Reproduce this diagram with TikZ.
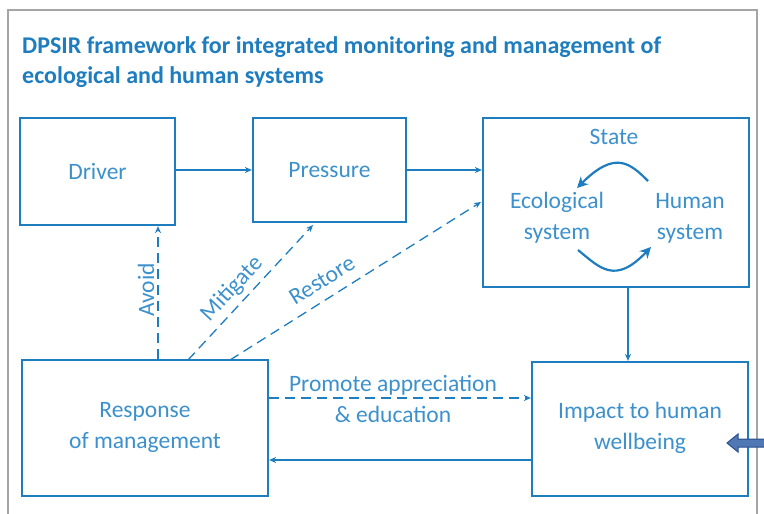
\documentclass[tikz,border=0pt]{standalone}
\usepackage{fontspec}
\setmainfont{Carlito}
\usetikzlibrary{arrows.meta}
\definecolor{boxblue}{RGB}{30,125,190}
\definecolor{txtblue}{RGB}{60,145,205}
\definecolor{framegray}{RGB}{165,165,165}
\definecolor{fatfill}{RGB}{80,120,180}
\definecolor{fatline}{RGB}{40,80,140}
\tikzset{
  stagebox/.style={draw=boxblue, line width=2.2pt, fill=white, inner sep=0pt},
  lbl/.style={text=txtblue, font=\fontsize{23.5}{31}\selectfont, align=center, inner sep=1pt},
  conn/.style={draw=boxblue, line width=1.3pt, -{Stealth[length=7pt,width=6pt]}},
  dconn/.style={conn, dash pattern=on 10pt off 6pt},
  curv/.style={draw=boxblue, line width=2.2pt, -{Stealth[length=11pt,width=11pt]}}
}
\begin{document}
\begin{tikzpicture}[x=1pt,y=-1pt]
\useasboundingbox (0,0) rectangle (764,514);
% outer frame
\draw[framegray, line width=1.5pt] (8,520) -- (8,10) -- (757,10) -- (757,520);
% title
\node[anchor=base west, text=boxblue, font=\bfseries\fontsize{24}{30}\selectfont, inner sep=0pt] (title1) at (22,53)
  {DPSIR framework for integrated monitoring and management of};
\node[anchor=base west, text=boxblue, font=\bfseries\fontsize{24}{30}\selectfont, inner sep=0pt] (title2) at (22,83)
  {ecological and human systems};
% boxes
\node[stagebox, minimum width=155pt, minimum height=107pt] (driver) at (97.5,171.5) {};
\node[lbl] at (driver) {Driver};
\node[stagebox, minimum width=153pt, minimum height=104pt] (pressure) at (329.5,170) {};
\node[lbl] at (pressure) {Pressure};
\node[stagebox, minimum width=266pt, minimum height=169pt] (state) at (616,202.5) {};
\node[stagebox, minimum width=246pt, minimum height=136pt] (response) at (145,428) {};
\node[lbl] at (145,427) {Response\\of management};
\node[stagebox, minimum width=216pt, minimum height=134pt] (impact) at (640,429) {};
\node[lbl] at (640,428) {Impact to human\\wellbeing};
% inside state
\node[lbl] (st) at (614,137) {State};
\node[lbl] (eco) at (557,218) {Ecological\\system};
\node[lbl] (hum) at (690,218) {Human\\system};
\coordinate (c1s) at (648,181);
\coordinate (c1e) at (577,188);
\draw[curv] (c1s) .. controls (630,163) and (615,150) .. (c1e);
\coordinate (c2s) at (578,250);
\coordinate (c2e) at (651,247);
\draw[curv] (c2s) .. controls (600,268) and (615,285) .. (c2e);
% connectors
\draw[conn] (driver.east |- 0,170) -- (pressure.west |- 0,170);
\draw[conn] (pressure.east |- 0,170) -- (state.west |- 0,170);
\draw[conn] (state.south -| 628,0) -- (impact.north -| 628,0);
\draw[conn] (impact.west |- 0,460) -- (response.east |- 0,460);
\draw[dconn] (response.east |- 0,398) -- (impact.west |- 0,398);
\node[lbl] (promote) at (393,399) {Promote appreciation\\\& education};
\draw[dconn] (response.north -| 158,0) -- (driver.south -| 158,0);
\node[lbl, rotate=90] (avoid) at (146,290) {Avoid};
\coordinate (mA) at (188,360);
\coordinate (mB) at (313,225);
\draw[dconn] (mA) -- (mB);
\node[lbl, rotate=47] (mitig) at (232,289) {Mitigate};
\coordinate (rA) at (230,360);
\coordinate (rB) at (481,202);
\draw[dconn] (rA) -- (rB);
\node[lbl, rotate=32] (restore) at (322,280) {Restore};
% fat arrow from right
\coordinate (fat) at (727,443);
\draw[fatline, fill=fatfill, line width=1pt] (fat) -- (738,434) -- (738,439) -- (766,439) -- (766,447) -- (738,447) -- (738,452) -- cycle;
\end{tikzpicture}
\end{document}
